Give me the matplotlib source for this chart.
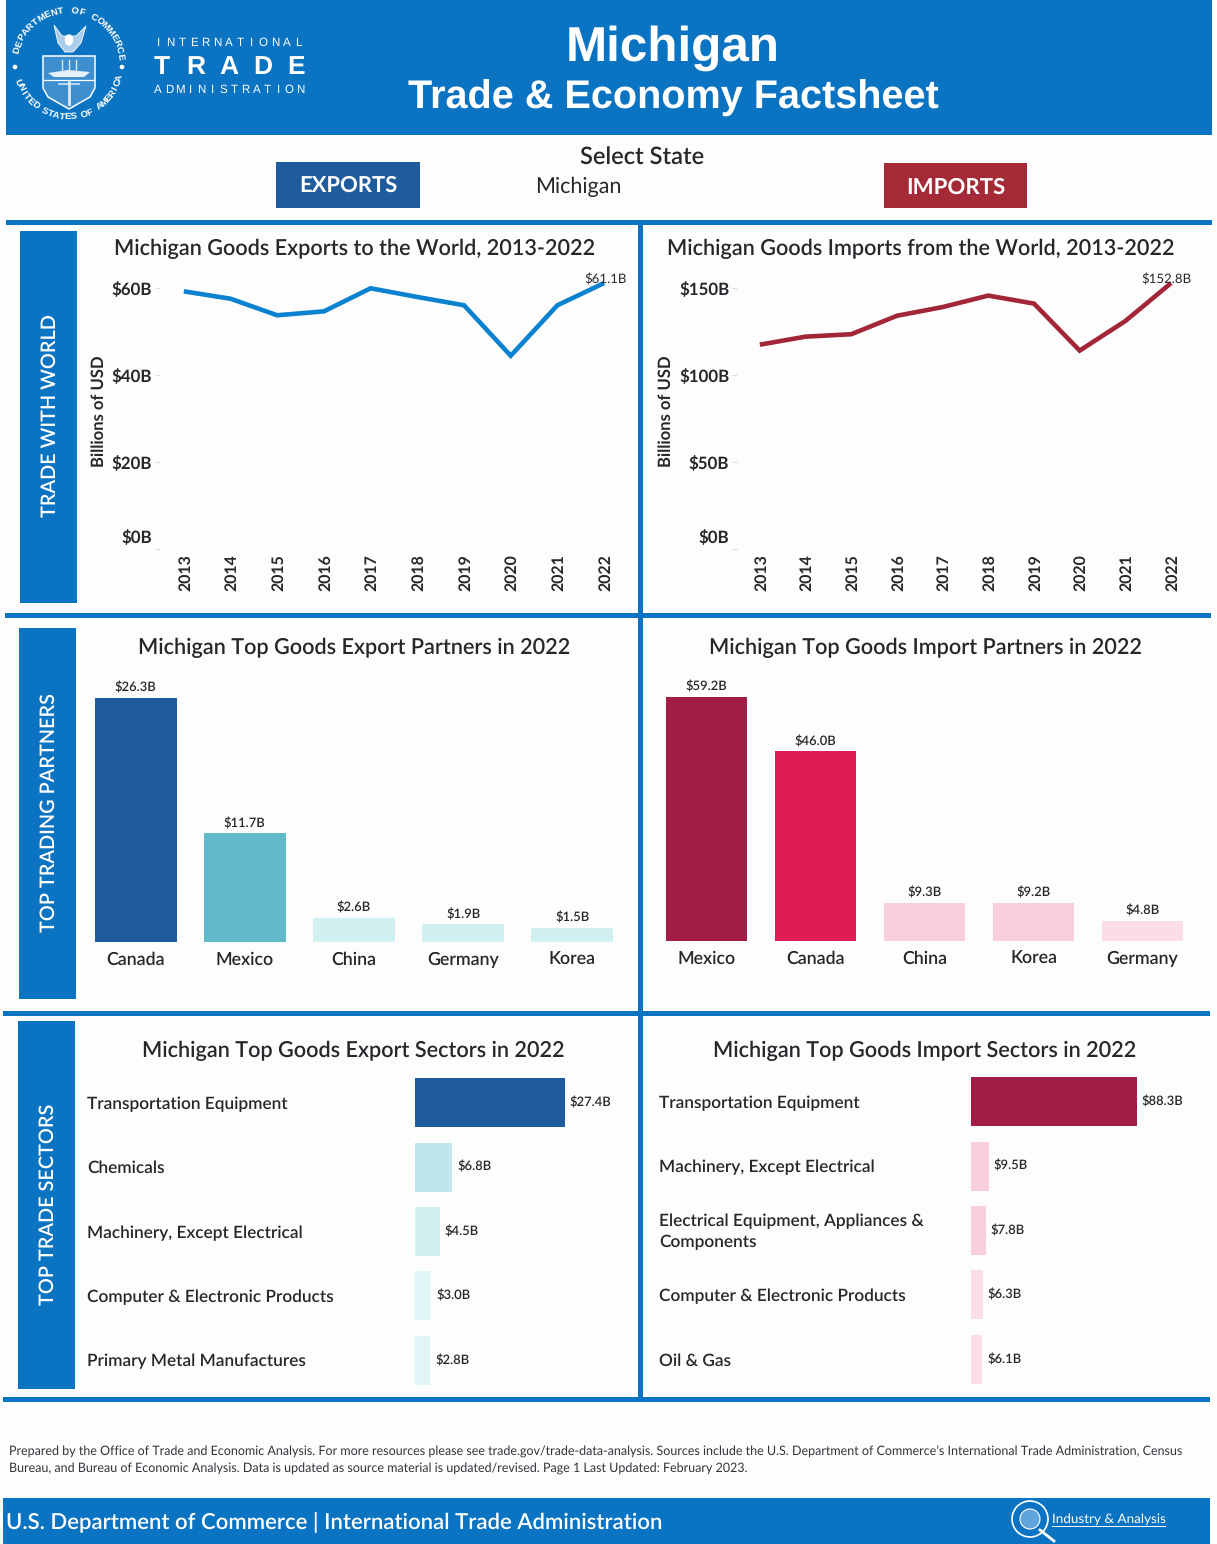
import numpy as np
import matplotlib
matplotlib.use("Agg")
import matplotlib.pyplot as plt
from matplotlib.patches import Rectangle, Polygon, Circle, Ellipse
from matplotlib.transforms import ScaledTranslation

# Datos
years = [2013, 2014, 2015, 2016, 2017, 2018, 2019, 2020, 2021, 2022]
exports_world = [59.2, 57.5, 53.7, 54.6, 59.9, 57.9, 56.0, 44.4, 56.0, 61.1]
imports_world = [117.4, 122.0, 123.4, 134.0, 139.0, 145.6, 141.0, 114.0, 131.0, 152.8]

export_partners = ["Canada", "Mexico", "China", "Germany", "Korea"]
export_partner_values = [26.3, 11.7, 2.6, 1.9, 1.5]
import_partners = ["Mexico", "Canada", "China", "Korea", "Germany"]
import_partner_values = [59.2, 46.0, 9.3, 9.2, 4.8]

export_sectors = ["Transportation Equipment", "Chemicals", "Machinery, Except Electrical",
                  "Computer & Electronic Products", "Primary Metal Manufactures"]
export_sector_values = [27.4, 6.8, 4.5, 3.0, 2.8]
import_sectors = ["Transportation Equipment", "Machinery, Except Electrical",
                  "Electrical Equipment, Appliances &\nComponents",
                  "Computer & Electronic Products", "Oil & Gas"]
import_sector_values = [88.3, 9.5, 7.8, 6.3, 6.1]

BLUE = "#0A73C2"
LINE_BLUE = "#0B82D0"
LINE_RED = "#A32638"
DARK_BLUE = "#1F5C9E"
MID_TEAL = "#62B9C9"
LIGHT_TEAL = "#D3F0F0"
DARK_RED = "#A11D45"
MID_RED = "#DE1D57"
LIGHT_RED = "#F8CFDB"
TEXT = "#26262B"
FONT = "Lato"
SEMI = "semibold"

W, H = 1217, 1544
plt.rcParams["text.hinting"] = "no_hinting"
fig = plt.figure(figsize=(W / 100, H / 100), dpi=100, facecolor="#FDFDFE")
plt.rcParams["font.family"] = [FONT, "DejaVu Sans"]


def axes_px(x0, y0, x1, y1):
    # Crear ejes a partir de una caja en pixeles
    ax = fig.add_axes([x0 / W, 1 - y1 / H, (x1 - x0) / W, (y1 - y0) / H])
    ax.patch.set_alpha(0)
    for s in ax.spines.values():
        s.set_visible(False)
    return ax


bg = fig.add_axes([0, 0, 1, 1], zorder=0)
bg.set_xlim(0, W)
bg.set_ylim(H, 0)
bg.axis("off")


def box(x0, y0, x1, y1, color):
    bg.add_patch(Rectangle((x0, y0), x1 - x0, y1 - y0, color=color, lw=0))


def spaced(x0, x1, y, s, **kw):
    # Letras repartidas a lo ancho
    for x, c in zip(np.linspace(x0, x1, len(s)), s):
        bg.text(x, y, c, ha="center", va="center", color="white", **kw)


def arc_text(s, a0, a1, r, top=True):
    for a, c in zip(np.linspace(a0, a1, len(s)), s):
        x = 68 + r * np.cos(np.radians(a))
        y = 64 - r * np.sin(np.radians(a))
        rot = a - 90 if top else a + 90
        bg.text(x, y, c, ha="center", va="center", rotation=rot, color="white",
                fontsize=6.8, fontweight="bold", family="Liberation Sans")


# Cabecera
box(6, 0, 1212, 135, BLUE)
arc_text("DEPARTMENT OF COMMERCE", 165, 8, 53)
arc_text("UNITED STATES OF AMERICA", 200, 345, 53, top=False)
bg.add_patch(Circle((15, 67), 1.6, color="white"))
bg.add_patch(Circle((122, 67), 1.6, color="white"))
shield = [(43, 56), (95, 56), (95, 88), (90, 97), (69, 109), (48, 97), (43, 88)]
bg.add_patch(Polygon(shield, closed=True, fc="#3D8FCF", ec="white", lw=1.1))
bg.add_patch(Polygon([(48, 73), (68, 70), (90, 72), (84, 77), (54, 77)], fc="#E6F1FA", lw=0))
for mx in [62, 69, 76]:
    bg.plot([mx, mx], [60, 72], color="#D8E9F6", lw=1)
bg.plot([44, 94], [80, 80], color="white", lw=0.9)
bg.plot([69, 69], [81, 104], color="#D8E9F6", lw=2)
bg.plot([59, 79], [84, 84], color="#D8E9F6", lw=1.2)
bg.add_patch(Polygon([(54, 25), (62, 36), (69, 36), (76, 36), (86, 26), (81, 43), (73, 52), (65, 52), (58, 43)],
                     fc="#A9CDEA", ec="white", lw=0.6))
bg.add_patch(Ellipse((69, 40), 7, 10, color="white"))
spaced(159, 298, 43, "INTERNATIONAL", fontsize=8.3, family="Liberation Sans")
spaced(162, 296, 67, "TRADE", fontsize=19, fontweight="bold", family="Liberation Sans")
spaced(158, 300, 90, "ADMINISTRATION", fontsize=8.3, family="Liberation Sans")
bg.text(673, 48, "Michigan", ha="center", va="center", color="white", fontsize=35.6,
        fontweight="bold", family="Liberation Sans")
bg.text(673, 98, "Trade & Economy Factsheet", ha="center", va="center", color="white", fontsize=28.5,
        fontweight="bold", family="Liberation Sans")

# Selector
bg.text(642, 157, "Select State", ha="center", va="center", color=TEXT, fontsize=17, fontweight=SEMI)
bg.text(578, 187, "Michigan", ha="center", va="center", color=TEXT, fontsize=15.5)
box(276, 162, 420, 208, DARK_BLUE)
box(884, 163, 1027, 208, "#A42A37")
bg.text(348, 186, "EXPORTS", ha="center", va="center", color="white", fontsize=15.8, fontweight="bold")
bg.text(956, 187, "IMPORTS", ha="center", va="center", color="white", fontsize=16, fontweight="bold")

# Separadores
box(6, 220, 1212, 225, BLUE)
box(5, 613, 1211, 618, BLUE)
box(3, 1011, 1210, 1016, BLUE)
box(3, 1397, 1210, 1402, BLUE)
box(638, 222, 643, 1400, BLUE)

# Bandas laterales
for y0, y1, x0, label in [(231, 603, 20, "TRADE WITH WORLD"), (628, 999, 19, "TOP TRADING PARTNERS"),
                          (1021, 1389, 18, "TOP TRADE SECTORS")]:
    box(x0, y0, x0 + 57, y1, BLUE)
    bg.text(x0 + 30, (y0 + y1) / 2 - 1, label, rotation=90, ha="center", va="center", color="white",
            fontsize=14.3, fontweight=SEMI)


def line_panel(x0, x1, xlim, top, years, values, color, ticks, ticklabels, title, tx, last_label, lx, ly_x):
    ax = axes_px(x0, 270, x1, 549)
    ax.plot(years, values, color=color, lw=3.3, solid_joinstyle="miter", solid_capstyle="butt")
    ax.set_xlim(*xlim)
    ax.set_ylim(0, top)
    ax.set_yticks(ticks)
    ax.set_yticklabels(ticklabels, fontsize=12.2, fontweight="bold", color=TEXT)
    ax.tick_params(axis="y", length=3.5, color="#DDDDDD", pad=2)
    first = ax.get_yticklabels()[0]
    first.set_va("bottom")
    first.set_transform(first.get_transform() + ScaledTranslation(0, 3 / 72, fig.dpi_scale_trans))
    ax.set_xticks(years)
    ax.set_xticklabels(years, rotation=90, fontsize=11.4, fontweight="bold", color=TEXT)
    ax.tick_params(axis="x", length=0, pad=4)
    for lab in ax.get_xticklabels():
        lab.set_transform(lab.get_transform() + ScaledTranslation(1 / 72, 0, fig.dpi_scale_trans))
    ax.axhline(0, color="#DDDDDD", lw=0.8, ls=":")
    ax.annotate(last_label, (years[-1], values[-1]), xytext=(lx, 2.5), textcoords="offset points",
                ha="center", va="center", fontsize=9.5, color=TEXT, annotation_clip=False)
    ax.set_ylabel("Billions of USD", fontsize=12, fontweight="bold", color=TEXT)
    ax.yaxis.set_label_coords((ly_x - x0) / (x1 - x0), 0.495)
    bg.text(tx, 249, title, ha="center", va="center", color=TEXT, fontsize=15.6, fontweight=SEMI)


line_panel(160, 627, (2012.49, 2022.49), 64.1, years, exports_world, LINE_BLUE,
           [0, 20, 40, 60], ["$0B", "$20B", "$40B", "$60B"],
           "Michigan Goods Exports to the World, 2013-2022", 355, "$61.1B", 1, 107)
line_panel(737, 1193, (2012.5, 2022.48), 160.3, years, imports_world, LINE_RED,
           [0, 50, 100, 150], ["$0B", "$50B", "$100B", "$150B"],
           "Michigan Goods Imports from the World, 2013-2022", 921, "$152.8B", -3, 674)


def partner_panel(x0, x1, y_top, y_base, names, values, colors, title, tx):
    ax = axes_px(x0, y_top, x1, y_base)
    bars = ax.bar(range(len(names)), values, width=0.75, color=colors)
    ax.set_xlim(-0.5, len(names) - 0.5)
    ax.set_ylim(0, values[0] * (y_base - y_top) / 244)
    ax.set_yticks([])
    ax.set_xticks(range(len(names)))
    ax.set_xticklabels(names, fontsize=12.8, fontweight=SEMI, color=TEXT)
    ax.tick_params(axis="x", length=0, pad=7)
    ax.bar_label(bars, labels=[f"${v:.1f}B" for v in values], padding=3, fontsize=9.4,
                 fontweight=SEMI, color=TEXT)
    bg.text(tx, 648, title, ha="center", va="center", color=TEXT, fontsize=15.6, fontweight=SEMI)


partner_panel(81, 627, 680, 942, export_partners, export_partner_values,
              [DARK_BLUE, MID_TEAL, LIGHT_TEAL, LIGHT_TEAL, LIGHT_TEAL],
              "Michigan Top Goods Export Partners in 2022", 354)
partner_panel(652, 1197, 680, 941, import_partners, import_partner_values,
              [DARK_RED, MID_RED, LIGHT_RED, LIGHT_RED, "#FADDE5"],
              "Michigan Top Goods Import Partners in 2022", 925)


def sector_panel(x_bar, x1, x_label, y0, names, values, colors, px_per_unit, title, tx):
    ax = axes_px(x_bar, y0, x1, y0 + 5 * 64.4)
    bars = ax.barh(range(len(names)), values, height=0.76, color=colors)
    ax.set_xlim(0, (x1 - x_bar) / px_per_unit)
    ax.set_ylim(len(names) - 0.5, -0.5)
    ax.set_xticks([])
    ax.set_yticks([])
    ax.bar_label(bars, labels=[f"${v:.1f}B" for v in values], padding=3.5, fontsize=9.4,
                 fontweight=SEMI, color=TEXT)
    for i, name in enumerate(names):
        ax.text((x_label - x_bar) / (x1 - x_bar), i + 0.02, name, transform=ax.get_yaxis_transform(),
                ha="left", va="center", fontsize=12.45, fontweight=SEMI, color=TEXT, linespacing=1.4)
    bg.text(tx, 1051, title, ha="center", va="center", color=TEXT, fontsize=15.6, fontweight=SEMI)


sector_panel(415, 627, 87, 1070.5, export_sectors, export_sector_values,
             [DARK_BLUE, "#BFE6EA", LIGHT_TEAL, "#E0F5F5", "#E0F5F5"], 5.47,
             "Michigan Top Goods Export Sectors in 2022", 353)
sector_panel(971, 1199, 659, 1069.5, import_sectors, import_sector_values,
             [DARK_RED, LIGHT_RED, LIGHT_RED, "#FADDE5", "#FADDE5"], 1.88,
             "Michigan Top Goods Import Sectors in 2022", 925)

# Nota al pie
bg.text(9, 1452, "Prepared by the Office of Trade and Economic Analysis. For more resources please see "
        "trade.gov/trade-data-analysis. Sources include the U.S. Department of Commerce\u2019s International "
        "Trade Administration, Census", ha="left", va="center", fontsize=9.0, color="#33333A")
bg.text(9, 1468, "Bureau, and Bureau of Economic Analysis. Data is updated as source material is "
        "updated/revised. Page 1 Last Updated: February 2023.", ha="left", va="center", fontsize=9.0,
        color="#33333A")

# Pie de pagina
box(3, 1498, 1210, 1544, BLUE)
bg.text(6, 1523, "U.S. Department of Commerce | International Trade Administration", ha="left", va="center",
        color="white", fontsize=15.9, fontweight=SEMI)
bg.add_patch(Circle((1030, 1519), 18, fc="none", ec="white", lw=1.2))
bg.add_patch(Circle((1030, 1519), 10, fc="#5FA5DC", ec="white", lw=0.8))
bg.plot([1040, 1054], [1530, 1541], color="white", lw=2)
bg.text(1052, 1519, "Industry & Analysis", ha="left", va="center", color="white", fontsize=9.7)
bg.plot([1052, 1165], [1526, 1526], color="white", lw=0.7)

plt.savefig("out.png", dpi=100)
plt.close()
